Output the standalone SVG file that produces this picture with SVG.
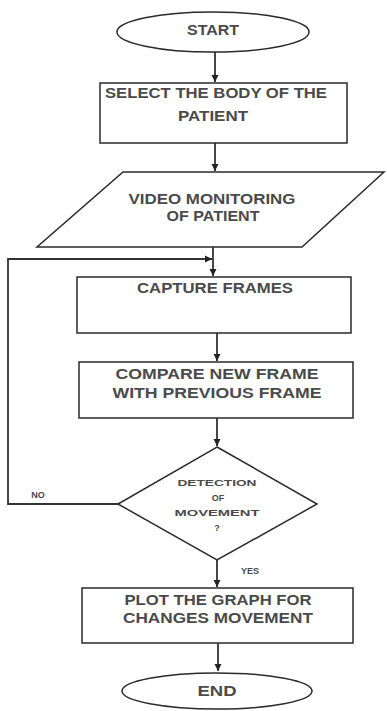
<svg xmlns="http://www.w3.org/2000/svg" width="387" height="711" viewBox="0 0 387 711">
<defs>
<marker id="ah" markerWidth="8" markerHeight="8" refX="7" refY="4" orient="auto" markerUnits="userSpaceOnUse">
<path d="M0,0.5 L7,4 L0,7.5 Z" fill="#222"/>
</marker>
<style>
.shape{fill:#fff;stroke:#2a2a2a;stroke-width:1.5}
.t{font-family:"Liberation Sans",Arial,sans-serif;font-weight:bold;font-size:14px;fill:#4a4a4a;text-anchor:middle}
.s{font-family:"Liberation Sans",Arial,sans-serif;font-weight:bold;font-size:9px;fill:#4a4a4a;text-anchor:middle}
.c{fill:none;stroke:#333;stroke-width:1.8}
</style>
</defs>
<rect width="387" height="711" fill="#fff"/>
<g id="connectors">
<path class="c" d="M215,52 V82" marker-end="url(#ah)"/>
<path class="c" d="M215,143 V171" marker-end="url(#ah)"/>
<path class="c" d="M213,247 V276" marker-end="url(#ah)"/>
<path class="c" d="M217,333 V361" marker-end="url(#ah)"/>
<path class="c" d="M217,418 V446" marker-end="url(#ah)"/>
<path class="c" d="M217,560 V587" marker-end="url(#ah)"/>
<path class="c" d="M218,643 V671" marker-end="url(#ah)"/>
<path class="c" d="M118,504 H8 V259 H212" marker-end="url(#ah)"/>
<text class="s" x="38" y="498">NO</text>
<text class="s" x="250" y="574">YES</text>
</g>
<g id="start">
<ellipse class="shape" cx="213" cy="32" rx="96" ry="20"/>
<text class="t" x="213" y="35" textLength="52" lengthAdjust="spacingAndGlyphs">START</text>
</g>
<g id="select">
<rect class="shape" x="100" y="83" width="247" height="60"/>
<text class="t" x="216" y="98" textLength="222" lengthAdjust="spacingAndGlyphs">SELECT THE BODY OF THE</text>
<text class="t" x="213" y="121" textLength="70" lengthAdjust="spacingAndGlyphs">PATIENT</text>
</g>
<g id="video">
<polygon class="shape" points="123,172 384,172 302,247 37,247"/>
<text class="t" x="212" y="204" textLength="167" lengthAdjust="spacingAndGlyphs">VIDEO MONITORING</text>
<text class="t" x="213" y="221" textLength="93" lengthAdjust="spacingAndGlyphs">OF PATIENT</text>
</g>
<g id="capture">
<rect class="shape" x="77" y="277" width="274" height="56"/>
<text class="t" x="215" y="293" textLength="156" lengthAdjust="spacingAndGlyphs">CAPTURE FRAMES</text>
</g>
<g id="compare">
<rect class="shape" x="79" y="362" width="274" height="56"/>
<text class="t" x="217" y="379" textLength="203" lengthAdjust="spacingAndGlyphs">COMPARE NEW FRAME</text>
<text class="t" x="217" y="398" textLength="209" lengthAdjust="spacingAndGlyphs">WITH PREVIOUS FRAME</text>
</g>
<g id="decision">
<polygon class="shape" points="217,447 317,504 217,560 118,504"/>
<text class="s" x="217" y="486" textLength="79" lengthAdjust="spacingAndGlyphs">DETECTION</text>
<text class="s" x="218" y="501">OF</text>
<text class="s" x="217" y="516" textLength="85" lengthAdjust="spacingAndGlyphs">MOVEMENT</text>
<text class="s" x="217" y="531">?</text>
</g>
<g id="plot">
<rect class="shape" x="82" y="588" width="271" height="55"/>
<text class="t" x="218" y="605" textLength="187" lengthAdjust="spacingAndGlyphs">PLOT THE GRAPH FOR</text>
<text class="t" x="218" y="623" textLength="190" lengthAdjust="spacingAndGlyphs">CHANGES MOVEMENT</text>
</g>
<g id="end">
<ellipse class="shape" cx="217" cy="691" rx="95" ry="18"/>
<text class="t" x="217" y="696" textLength="39" lengthAdjust="spacingAndGlyphs">END</text>
</g>
</svg>
